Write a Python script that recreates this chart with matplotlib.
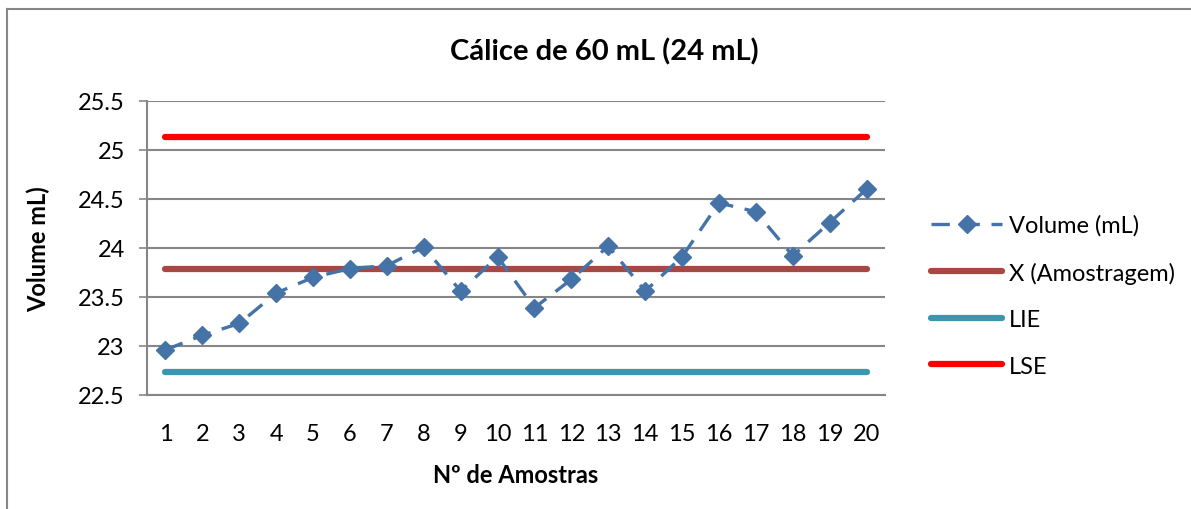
import matplotlib
matplotlib.use("Agg")
import matplotlib.pyplot as plt
from matplotlib.lines import Line2D

amostras = list(range(1, 21))
volume = [22.96, 23.11, 23.23, 23.54, 23.70, 23.79, 23.82, 24.01, 23.56, 23.91,
          23.39, 23.68, 24.02, 23.56, 23.91, 24.46, 24.37, 23.92, 24.26, 24.60]
media = 23.79
lie = 22.735
lse = 25.13
yticks = [22.5, 23, 23.5, 24, 24.5, 25, 25.5]

plt.rcParams['font.family'] = ['Lato', 'DejaVu Sans']

W, H = 1191, 510
fig = plt.figure(figsize=(W / 100, H / 100), dpi=100)
ax = fig.add_axes([147 / W, 1 - 396 / H, (885 - 147) / W, (396 - 102) / H])

ax.plot(amostras, volume, color='#4572A7', lw=2.4, ls=(0, (5.5, 3.5)), marker='D',
        ms=9, mec='#4572A7', mfc='#4572A7', label='Volume (mL)', zorder=4)
ax.plot(amostras, [media] * len(amostras), color='#AA4643', lw=4.5,
        solid_capstyle='round', label='X (Amostragem)', zorder=3)
ax.plot(amostras, [lie] * len(amostras), color='#3D96AE', lw=4.5,
        solid_capstyle='round', label='LIE', zorder=3)
ax.plot(amostras, [lse] * len(amostras), color='#FF0000', lw=4.5,
        solid_capstyle='round', label='LSE', zorder=3)

ax.set_xlim(0.5, 20.5)
ax.set_ylim(22.5, 25.5)
ax.set_yticks(yticks)
ax.set_yticklabels([f"{t:g}" for t in yticks])
ax.set_xticks(amostras)
ax.tick_params(axis='x', length=0, pad=20, labelsize=17)
ax.tick_params(axis='y', length=6, width=1.2, color='#868686', pad=10, labelsize=17)
ax.grid(axis='y', color='#868686', lw=1.5)
ax.set_axisbelow(True)
for s in ['top', 'right']:
    ax.spines[s].set_visible(False)
for s in ['left', 'bottom']:
    ax.spines[s].set_color('#868686')
    ax.spines[s].set_linewidth(1.5)

ax.set_xlabel('Nº de Amostras', fontsize=17, fontweight='bold', labelpad=14)
ax.set_ylabel('Volume mL)', fontsize=17, fontweight='bold', labelpad=20)
fig.text(604 / W, 1 - 52 / H, 'Cálice de 60 mL (24 mL)', fontsize=21,
         fontweight='bold', ha='center', va='center')

leg = fig.legend(loc='upper left', bbox_to_anchor=(922 / W, 1 - 206 / H),
                 frameon=False, fontsize=17, handlelength=3.0, labelspacing=1.08,
                 handletextpad=0.3, borderaxespad=0)

# outer chart frame (left and top edges visible)
fig.add_artist(Line2D([6.5 / W, 6.5 / W], [0, 1 - 9.5 / H], transform=fig.transFigure,
                      color='#868686', lw=1.5))
fig.add_artist(Line2D([6.5 / W, 1], [1 - 9.5 / H, 1 - 9.5 / H], transform=fig.transFigure,
                      color='#868686', lw=1.5))

fig.savefig('out.png', dpi=100)
